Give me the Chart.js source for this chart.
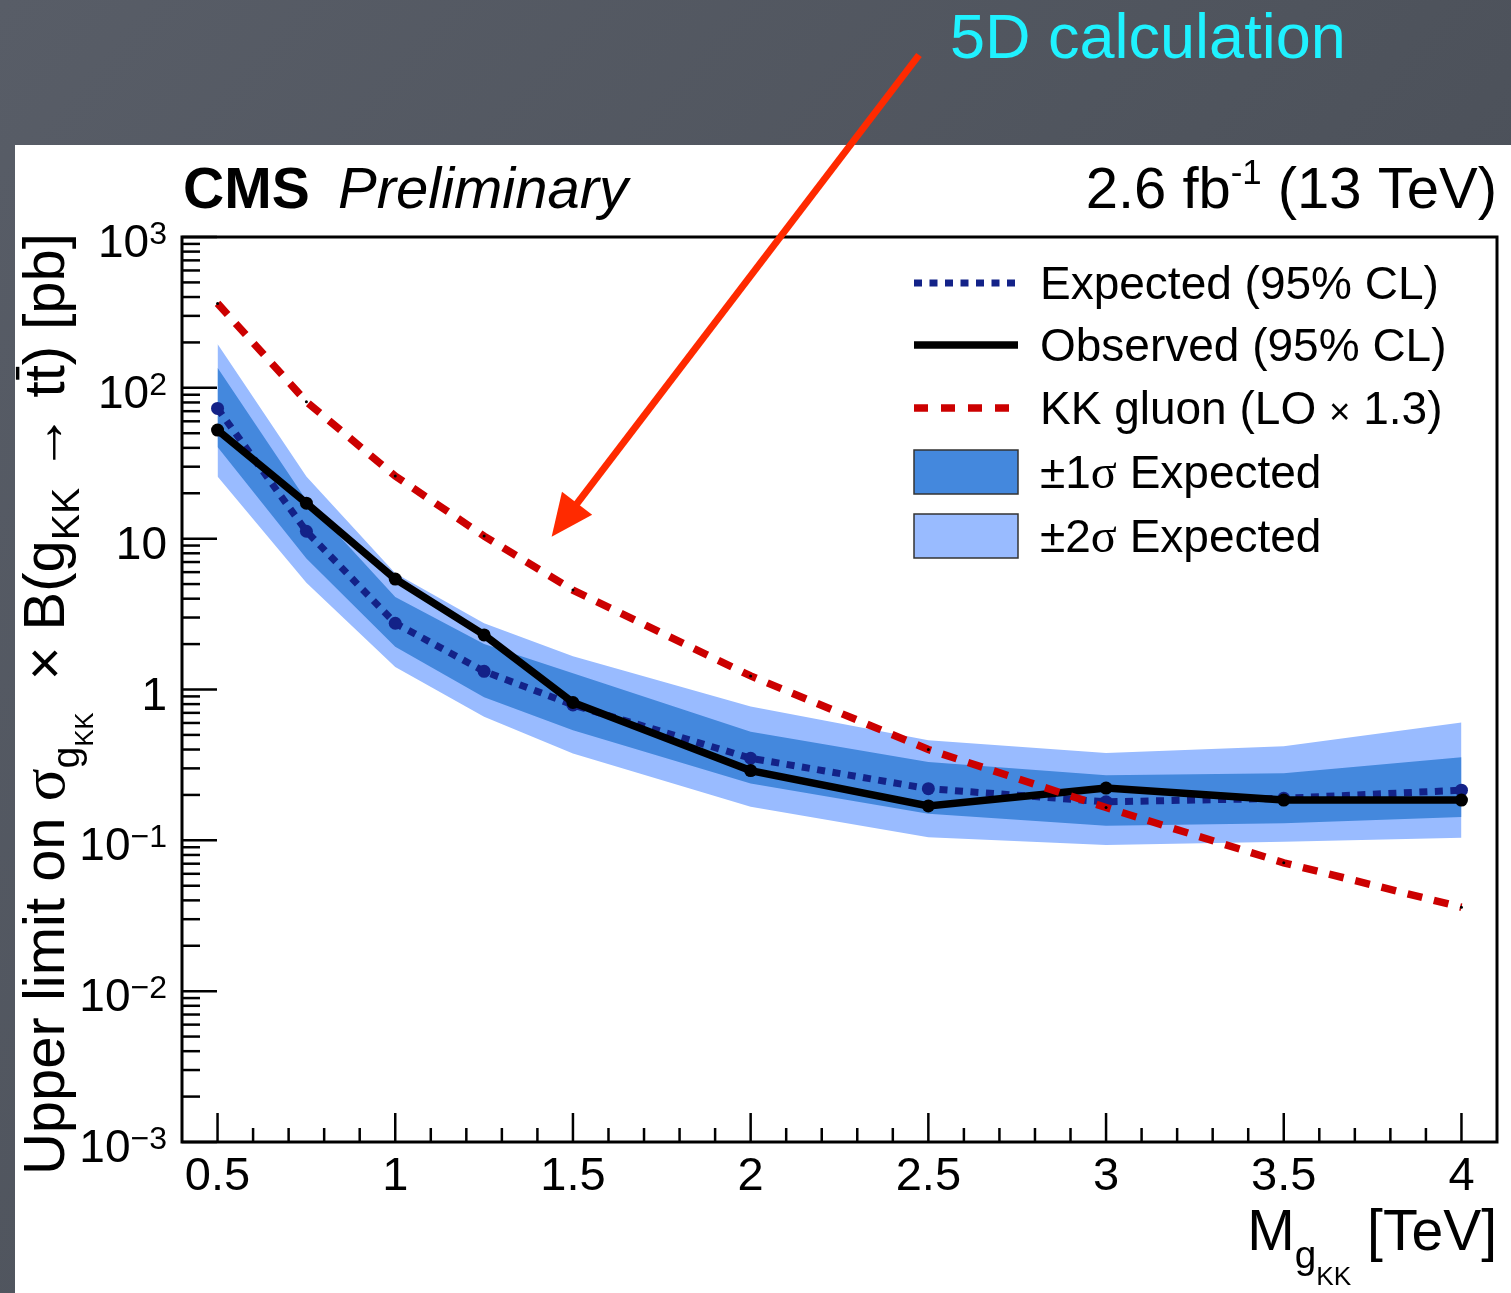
<!DOCTYPE html>
<html>
<head>
<meta charset="utf-8">
<script src="https://cdn.jsdelivr.net/npm/chart.js@4.4.1/dist/chart.umd.min.js"></script>
<style>
  html, body { margin: 0; padding: 0; background: #4d525b; }
  #wrap { width: 1511px; height: 1293px; }
</style>
</head>
<body>
<div id="wrap"><canvas id="limitChart" width="1511" height="1293"></canvas></div>
<script>
// KK gluon mass points [TeV]
const massTeV = [0.5, 0.75, 1.0, 1.25, 1.5, 2.0, 2.5, 3.0, 3.5, 4.0];

// upper limits [pb]
const expected = [73, 11.2, 2.75, 1.32, 0.79, 0.35, 0.22, 0.18, 0.19, 0.215];
const observed = [52.5, 17.2, 5.4, 2.3, 0.82, 0.29, 0.169, 0.222, 0.185, 0.185];
const sig1Up = [136, 18, 4.1, 2.0, 1.28, 0.525, 0.33, 0.27, 0.278, 0.355];
const sig1Dn = [40.5, 7.4, 1.92, 0.89, 0.537, 0.238, 0.15, 0.125, 0.13, 0.143];
const sig2Up = [195, 25.8, 5.9, 2.75, 1.66, 0.77, 0.46, 0.38, 0.42, 0.605];
const sig2Dn = [25.8, 5.1, 1.41, 0.66, 0.377, 0.167, 0.105, 0.093, 0.098, 0.104];
const kkGluon = [363, 81, 26, 10.4, 4.56, 1.23, 0.40, 0.165, 0.071, 0.036];

// axis ticks
const xTickValues = [0.5, 1, 1.5, 2, 2.5, 3, 3.5, 4];
const xTickLabels = ["0.5", "1", "1.5", "2", "2.5", "3", "3.5", "4"];
const yTickValues = [1e-3, 1e-2, 1e-1, 1, 10, 100, 1000];
const yTickBase = ["10", "10", "10", "1", "10", "10", "10"];
const yTickExp = ["\u22123", "\u22122", "\u22121", "", "", "2", "3"];

// where the annotation arrow points (data coords)
const arrowTip = { x: 1.44, y: 10.3 };

const SANS = '"Liberation Sans", Arial, Helvetica, sans-serif';
const SERIF = '"Liberation Serif", "Times New Roman", serif';

const pts = vals => massTeV.map((m, i) => ({ x: m, y: vals[i] }));

function line(ctx, x1, y1, x2, y2) {
    ctx.beginPath();
    ctx.moveTo(x1, y1);
    ctx.lineTo(x2, y2);
    ctx.stroke();
}

// draw a run of text pieces [{t, s, dy, f}] starting at x, baseline y
function runText(ctx, pieces, x, y, size) {
    pieces.forEach(p => {
        const fs = size * (p.s || 1);
        ctx.font = (p.style || '') + ' ' + fs + 'px ' + (p.f || SANS);
        const w = ctx.measureText(p.t).width;
        const yy = y + (p.dy || 0) * size;
        ctx.fillText(p.t, x, yy);
        if (p.bar) {
            ctx.save();
            ctx.lineWidth = size * 0.06;
            line(ctx, x + w * 0.1, yy - size * 0.8, x + w * 0.9, yy - size * 0.8);
            ctx.restore();
        }
        x += w;
    });
    return x;
}

function runWidth(ctx, pieces, size) {
    let w = 0;
    pieces.forEach(p => {
        ctx.font = (p.style || '') + ' ' + size * (p.s || 1) + 'px ' + (p.f || SANS);
        w += ctx.measureText(p.t).width;
    });
    return w;
}

const slidePlugin = {
    id: 'slide',
    beforeDraw(chart) {
        const ctx = chart.ctx;
        ctx.save();
        const g = ctx.createLinearGradient(0, 0, chart.width, chart.height);
        g.addColorStop(0, '#585d67');
        g.addColorStop(0.5, '#4f545d');
        g.addColorStop(1, '#454a53');
        ctx.fillStyle = g;
        ctx.fillRect(0, 0, chart.width, chart.height);
        ctx.fillStyle = '#ffffff';
        ctx.fillRect(15, 145, chart.width - 15, chart.height - 145);
        ctx.restore();
    }
};

const rootStylePlugin = {
    id: 'rootStyle',
    afterDraw(chart) {
        const ctx = chart.ctx;
        const a = chart.chartArea;
        const xs = chart.scales.x, ys = chart.scales.y;
        ctx.save();
        ctx.fillStyle = '#000';
        ctx.strokeStyle = '#000';

        // frame
        ctx.lineWidth = 3;
        ctx.strokeRect(a.left, a.top, a.right - a.left, a.bottom - a.top);

        // ticks
        ctx.lineWidth = 2.5;
        yTickValues.forEach(v => {
            const py = ys.getPixelForValue(v);
            line(ctx, a.left, py, a.left + 35, py);
        });
        for (let d = -3; d < 3; d++) {
            for (let m = 2; m < 10; m++) {
                const py = ys.getPixelForValue(m * Math.pow(10, d));
                line(ctx, a.left, py, a.left + 18, py);
            }
        }
        xTickValues.forEach(v => {
            const px = xs.getPixelForValue(v);
            line(ctx, px, a.bottom, px, a.bottom - 29);
        });
        for (let k = 5; k <= 40; k++) {
            if (k % 5 === 0) continue;
            const px = xs.getPixelForValue(k / 10);
            line(ctx, px, a.bottom, px, a.bottom - 14);
        }

        // tick labels
        ctx.textBaseline = 'alphabetic';
        ctx.textAlign = 'center';
        ctx.font = '47px ' + SANS;
        xTickValues.forEach((v, i) => {
            ctx.fillText(xTickLabels[i], xs.getPixelForValue(v), a.bottom + 48);
        });
        ctx.textAlign = 'left';
        yTickValues.forEach((v, i) => {
            const py = ys.getPixelForValue(v);
            const right = a.left - 15;
            ctx.font = '32px ' + SANS;
            const we = yTickExp[i] ? ctx.measureText(yTickExp[i]).width : 0;
            ctx.font = '46px ' + SANS;
            const wb = ctx.measureText(yTickBase[i]).width;
            ctx.fillText(yTickBase[i], right - we - wb, py + 20);
            if (yTickExp[i]) {
                ctx.font = '32px ' + SANS;
                ctx.fillText(yTickExp[i], right - we, py + 7);
            }
        });

        // x title
        const xt = [
            { t: 'M', s: 1 },
            { t: 'g', s: 0.68, dy: 0.32 },
            { t: 'KK', s: 0.46, dy: 0.62 },
            { t: ' [TeV]', s: 1 }
        ];
        runText(ctx, xt, a.right - runWidth(ctx, xt, 57), 1250, 57);

        // y title, rotated, fitted along the axis
        const yt = [
            { t: 'Upper limit on ', s: 1 },
            { t: '\u03c3', s: 1.05, f: SERIF },
            { t: 'g', s: 0.68, dy: 0.26 },
            { t: 'KK', s: 0.44, dy: 0.5 },
            { t: '  \u00d7 B(g', s: 1 },
            { t: 'KK', s: 0.68, dy: 0.26 },
            { t: ' \u2192 t', s: 1 },
            { t: 't', s: 1, bar: true },
            { t: ') [pb]', s: 1 }
        ];
        const span = 1175 - 233;
        const ysz = 58 * span / runWidth(ctx, yt, 58);
        ctx.save();
        ctx.translate(64, 1175);
        ctx.rotate(-Math.PI / 2);
        runText(ctx, yt, 0, 0, ysz);
        ctx.restore();

        // CMS Preliminary / lumi
        ctx.font = 'bold 57px ' + SANS;
        ctx.fillText('CMS', 183, 208);
        ctx.font = 'italic 58px ' + SANS;
        ctx.fillText('Preliminary', 338, 208);
        const lumi = [
            { t: '2.6 fb', s: 1 },
            { t: '-1', s: 0.6, dy: -0.42 },
            { t: ' (13 TeV)', s: 1 }
        ];
        runText(ctx, lumi, a.right - runWidth(ctx, lumi, 58), 208, 58);

        // legend
        const lx0 = 914, lx1 = 1018, tx = 1040;
        const rows = [283, 345, 408, 472, 536];
        ctx.lineCap = 'butt';
        ctx.strokeStyle = '#132288'; ctx.lineWidth = 7; ctx.setLineDash([8, 7.5]);
        line(ctx, lx0, rows[0], lx1 + 4, rows[0]);
        ctx.strokeStyle = '#000'; ctx.lineWidth = 7.5; ctx.setLineDash([]);
        line(ctx, lx0, rows[1], lx1, rows[1]);
        ctx.strokeStyle = '#cc0000'; ctx.lineWidth = 7.5; ctx.setLineDash([14, 13]);
        line(ctx, lx0, rows[2], lx1, rows[2]);
        ctx.setLineDash([]);
        ctx.lineWidth = 1.5; ctx.strokeStyle = '#333';
        ctx.fillStyle = '#4488dd';
        ctx.fillRect(lx0, rows[3] - 22, lx1 - lx0, 44);
        ctx.strokeRect(lx0, rows[3] - 22, lx1 - lx0, 44);
        ctx.fillStyle = '#99bbff';
        ctx.fillRect(lx0, rows[4] - 22, lx1 - lx0, 44);
        ctx.strokeRect(lx0, rows[4] - 22, lx1 - lx0, 44);
        ctx.fillStyle = '#000';
        ctx.font = '46px ' + SANS;
        ctx.fillText('Expected (95% CL)', tx, rows[0] + 16);
        ctx.fillText('Observed (95% CL)', tx, rows[1] + 16);
        runText(ctx, [{ t: 'KK gluon (LO ' }, { t: '\u00d7', s: 0.8 }, { t: ' 1.3)' }], tx, rows[2] + 16, 46);
        runText(ctx, [{ t: '\u00b11' }, { t: '\u03c3', f: SERIF, s: 1.05 }, { t: ' Expected' }], tx, rows[3] + 16, 46);
        runText(ctx, [{ t: '\u00b12' }, { t: '\u03c3', f: SERIF, s: 1.05 }, { t: ' Expected' }], tx, rows[4] + 16, 46);

        // annotation
        ctx.fillStyle = '#1ff2ff';
        ctx.font = '63px ' + SANS;
        ctx.fillText('5D calculation', 950, 58);

        const tipX = xs.getPixelForValue(arrowTip.x), tipY = ys.getPixelForValue(arrowTip.y);
        const tailX = 919, tailY = 55;
        const dx = tipX - tailX, dy = tipY - tailY, len = Math.hypot(dx, dy);
        const ux = dx / len, uy = dy / len;
        const hl = 42, hw = 19;
        const bx = tipX - ux * hl, by = tipY - uy * hl;
        ctx.strokeStyle = '#ff2a00';
        ctx.fillStyle = '#ff2a00';
        ctx.lineWidth = 7;
        line(ctx, tailX, tailY, bx + ux * 4, by + uy * 4);
        ctx.beginPath();
        ctx.moveTo(tipX, tipY);
        ctx.lineTo(bx - uy * hw, by + ux * hw);
        ctx.lineTo(bx + uy * hw, by - ux * hw);
        ctx.closePath();
        ctx.fill();

        ctx.restore();
    }
};

const bandStyle = color => ({
    borderWidth: 0,
    pointRadius: 0,
    backgroundColor: color,
    tension: 0
});

new Chart(document.getElementById('limitChart'), {
    type: 'line',
    data: {
        datasets: [
            Object.assign({ label: '2s lo', data: pts(sig2Dn), fill: false, order: 10 }, bandStyle('#99bbff')),
            Object.assign({ label: '+-2 sigma', data: pts(sig2Up), fill: '-1', order: 9 }, bandStyle('#99bbff')),
            Object.assign({ label: '1s lo', data: pts(sig1Dn), fill: false, order: 8 }, bandStyle('#4488dd')),
            Object.assign({ label: '+-1 sigma', data: pts(sig1Up), fill: '-1', order: 7 }, bandStyle('#4488dd')),
            {
                label: 'Expected (95% CL)', data: pts(expected), order: 3,
                borderColor: '#132288', borderWidth: 7, borderDash: [8, 7.5],
                pointRadius: 6.5, pointBackgroundColor: '#132288', pointBorderWidth: 0,
                fill: false, tension: 0
            },
            {
                label: 'Observed (95% CL)', data: pts(observed), order: 2,
                borderColor: '#000', borderWidth: 7.5,
                pointRadius: 6.5, pointBackgroundColor: '#000', pointBorderWidth: 0,
                fill: false, tension: 0
            },
            {
                label: 'KK gluon (LO x 1.3)', data: pts(kkGluon), order: 1,
                borderColor: '#cc0000', borderWidth: 7.5, borderDash: [15, 12],
                pointRadius: 1.5, pointBackgroundColor: '#000', pointBorderWidth: 0,
                fill: false, tension: 0
            }
        ]
    },
    options: {
        responsive: false,
        animation: false,
        devicePixelRatio: 1,
        layout: { padding: { left: 182, top: 237, right: 14, bottom: 151 } },
        scales: {
            x: { type: 'linear', min: 0.4, max: 4.1, display: false },
            y: { type: 'logarithmic', min: 1e-3, max: 1e3, display: false }
        },
        plugins: {
            legend: { display: false },
            tooltip: { enabled: false }
        }
    },
    plugins: [slidePlugin, rootStylePlugin]
});
</script>
</body>
</html>
